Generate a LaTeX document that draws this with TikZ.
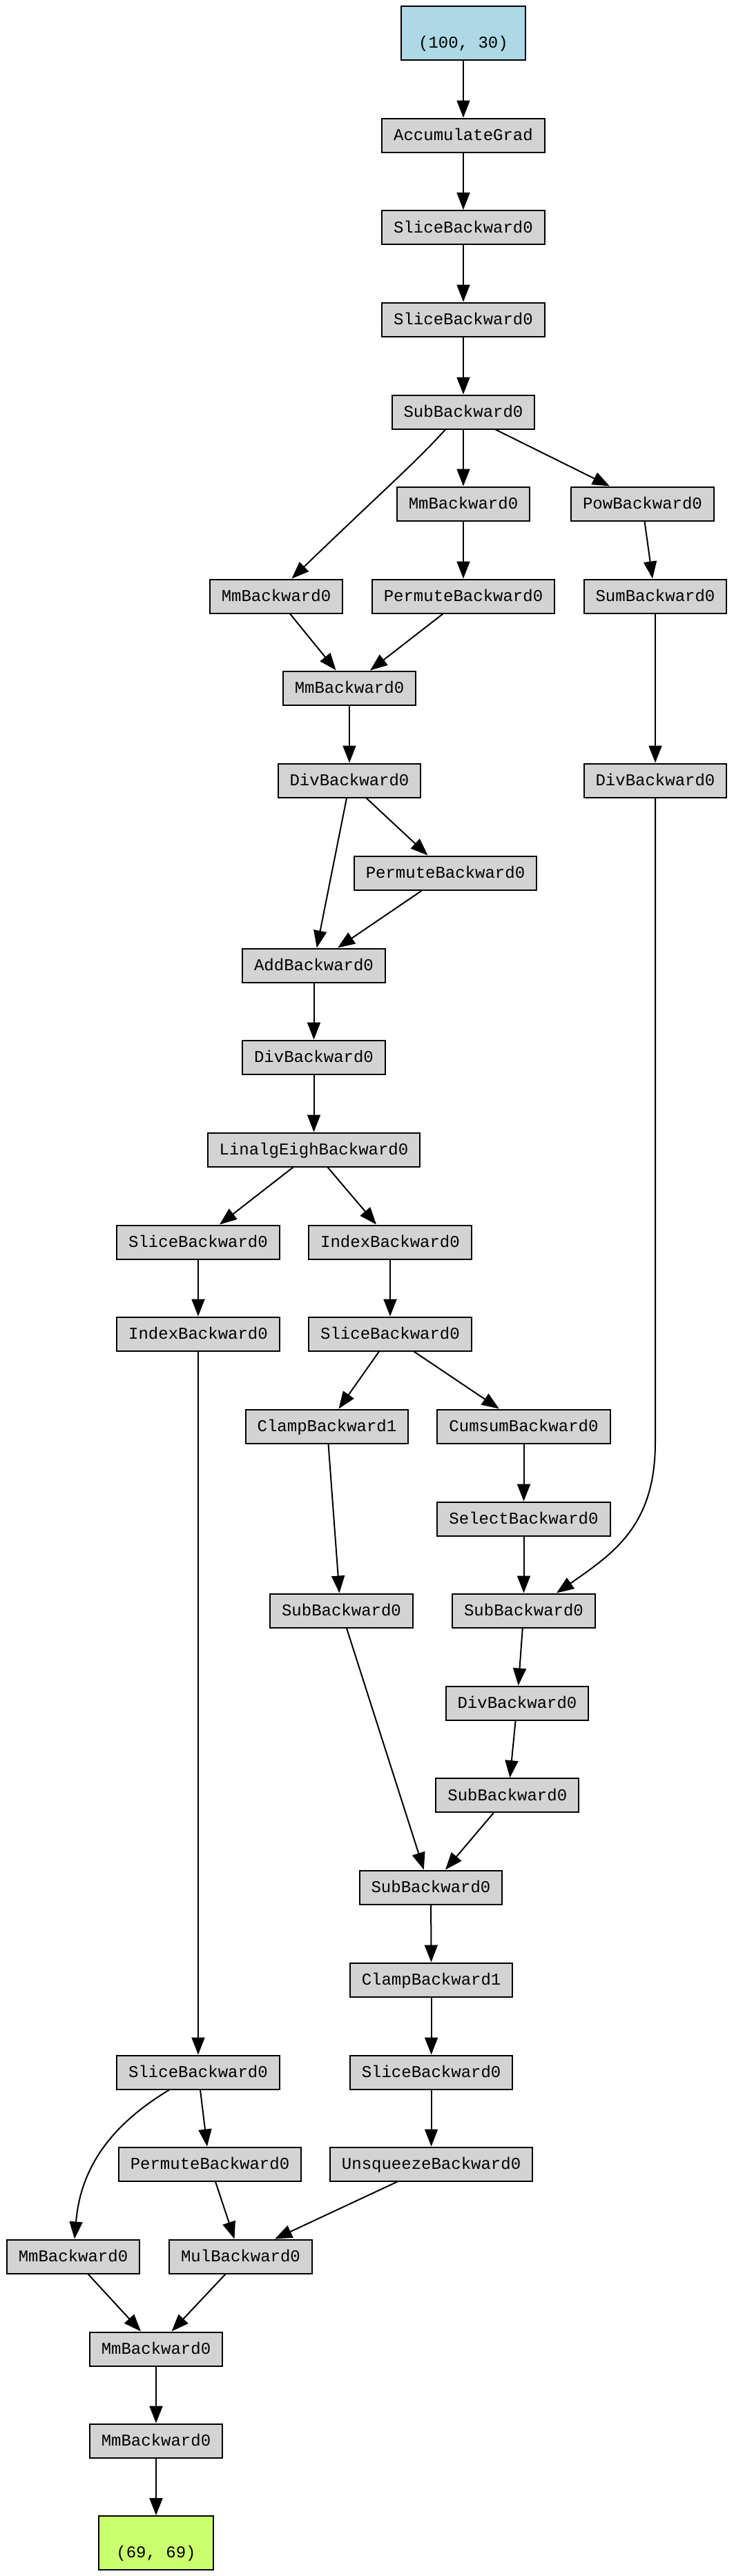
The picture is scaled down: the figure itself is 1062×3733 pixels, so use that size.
\documentclass[tikz,border=0pt]{standalone}
\usepackage{fontspec}
\usetikzlibrary{arrows.meta,calc}
\newfontfamily\opfont{Liberation Mono}
\definecolor{opgray}{RGB}{211,211,211}
\definecolor{inblue}{RGB}{173,216,230}
\definecolor{outgreen}{RGB}{202,255,112}
\tikzset{
  op/.style={draw=black, fill=opgray, line width=1pt, font=\opfont\fontsize{12pt}{14pt}\selectfont,
    inner xsep=8.5pt, inner ysep=0pt, minimum height=24.5pt, text height=9pt, text depth=1.4pt},
  tensor/.style={draw=black, line width=1pt, font=\opfont\fontsize{12pt}{14pt}\selectfont,
    inner xsep=12.5pt, inner ysep=0pt, minimum height=39pt, text height=23pt, text depth=2pt},
  edge/.style={line width=1pt, -{Triangle[length=12.5pt,width=9.5pt]}}
}
\begin{document}
\begin{tikzpicture}[x=0.5pt,y=-0.5pt]
\useasboundingbox[fill=white] (0,0) rectangle (1062,3733);
% nodes
\node[tensor, fill=inblue] (in) at (671,48) {(100, 30)};
\node[op] (acc) at (671,196) {AccumulateGrad};
\node[op] (s1) at (671,329.5) {SliceBackward0};
\node[op] (s2) at (671,463) {SliceBackward0};
\node[op] (sub1) at (671,597) {SubBackward0};
\node[op] (mm1) at (671,730) {MmBackward0};
\node[op] (pow) at (930.5,730) {PowBackward0};
\node[op] (mmL) at (400,864) {MmBackward0};
\node[op] (perm1) at (671,864) {PermuteBackward0};
\node[op] (sum) at (949,864) {SumBackward0};
\node[op] (mm2) at (506,997) {MmBackward0};
\node[op] (div1) at (506,1131) {DivBackward0};
\node[op] (divR) at (949,1131) {DivBackward0};
\node[op] (perm2) at (645,1265) {PermuteBackward0};
\node[op] (add) at (454.5,1399) {AddBackward0};
\node[op] (div2) at (454.5,1532) {DivBackward0};
\node[op] (eigh) at (454.5,1666) {LinalgEighBackward0};
\node[op] (sliceA) at (287,1800) {SliceBackward0};
\node[op] (index1) at (565,1800) {IndexBackward0};
\node[op] (indexA) at (287,1933) {IndexBackward0};
\node[op] (slice3) at (565,1933) {SliceBackward0};
\node[op] (clamp1) at (473.5,2067) {ClampBackward1};
\node[op] (cumsum) at (758.5,2067) {CumsumBackward0};
\node[op] (select) at (758.5,2201) {SelectBackward0};
\node[op] (subA) at (494.5,2334) {SubBackward0};
\node[op] (subB) at (758.5,2334) {SubBackward0};
\node[op] (div3) at (749,2468) {DivBackward0};
\node[op] (subC) at (734.8,2601.6) {SubBackward0};
\node[op] (subD) at (624,2735) {SubBackward0};
\node[op] (clamp2) at (624.6,2869) {ClampBackward1};
\node[op] (sliceB) at (287,3003) {SliceBackward0};
\node[op] (sliceC) at (624.6,3003) {SliceBackward0};
\node[op] (perm3) at (304,3136) {PermuteBackward0};
\node[op] (unsq) at (624.6,3136) {UnsqueezeBackward0};
\node[op] (mmC) at (106,3270) {MmBackward0};
\node[op] (mul) at (348.5,3270) {MulBackward0};
\node[op] (mmD) at (226,3404) {MmBackward0};
\node[op] (mmE) at (226,3537) {MmBackward0};
\node[tensor, fill=outgreen] (out) at (226,3685) {(69, 69)};
% edges
\draw[edge] (in) -- (acc);
\draw[edge] (acc) -- (s1);
\draw[edge] (s1) -- (s2);
\draw[edge] (s2) -- (sub1);
\draw[edge] ($(sub1.south)+(-26,0)$) .. controls (600,672) and (560,706) .. ($(mmL.north)+(22.5,0)$);
\draw[edge] (sub1) -- (mm1);
\draw[edge] ($(sub1.south)+(46.6,0)$) -- ($(pow.north)+(-47.5,0)$);
\draw[edge] (mm1) -- (perm1);
\draw[edge] ($(pow.south)+(3,0)$) -- ($(sum.north)+(-4,0)$);
\draw[edge] ($(mmL.south)+(20,0)$) -- ($(mm2.north)+(-19.3,0)$);
\draw[edge] ($(perm1.south)+(-29.5,0)$) -- ($(mm2.north)+(30,0)$);
\draw[edge] (mm2) -- (div1);
\draw[edge] (sum) -- (divR);
\draw[edge] ($(div1.south)+(-4,0)$) -- ($(add.north)+(4.3,0)$);
\draw[edge] ($(div1.south)+(24.5,0)$) -- ($(perm2.north)+(-25.5,0)$);
\draw[edge] ($(perm2.south)+(-34,0)$) -- ($(add.north)+(34.5,0)$);
\draw[edge] (add) -- (div2);
\draw[edge] (div2) -- (eigh);
\draw[edge] ($(eigh.south)+(-30,0)$) -- ($(sliceA.north)+(31,0)$);
\draw[edge] ($(eigh.south)+(20,0)$) -- ($(index1.north)+(-20,0)$);
\draw[edge] (sliceA) -- (indexA);
\draw[edge] (index1) -- (slice3);
\draw[edge] (indexA) -- (sliceB);
\draw[edge] ($(slice3.south)+(-16,0)$) -- ($(clamp1.north)+(17,0)$);
\draw[edge] ($(slice3.south)+(34.4,0)$) -- ($(cumsum.north)+(-35.7,0)$);
\draw[edge] (cumsum) -- (select);
\draw[edge] ($(clamp1.south)+(2,0)$) -- ($(subA.north)+(-3,0)$);
\draw[edge] (select) -- (subB);
\draw[edge] (divR.south) -- (949,2090) .. controls (949,2210) and (890,2250) .. ($(subB.north)+(47.5,0)$);
\draw[edge] ($(subB.south)+(-1.7,0)$) -- ($(div3.north)+(1.7,0)$);
\draw[edge] ($(div3.south)+(-2.4,0)$) -- ($(subC.north)+(3.7,0)$);
\draw[edge] ($(subA.south)+(7.5,0)$) -- ($(subD.north)+(-10.2,0)$);
\draw[edge] ($(subC.south)+(-20,0)$) -- ($(subD.north)+(21,0)$);
\draw[edge] (subD) -- (clamp2);
\draw[edge] (clamp2) -- (sliceC);
\draw[edge] ($(sliceB.south)+(3,0)$) -- ($(perm3.north)+(-4,0)$);
\draw[edge] ($(sliceB.south)+(-42,0)$) .. controls (180,3068) and (118,3125) .. ($(mmC.north)+(2,0)$);
\draw[edge] (sliceC) -- (unsq);
\draw[edge] ($(perm3.south)+(8,0)$) -- ($(mul.north)+(-9,0)$);
\draw[edge] ($(unsq.south)+(-49,0)$) -- ($(mul.north)+(49.5,0)$);
\draw[edge] ($(mmC.south)+(21.6,0)$) -- ($(mmD.north)+(-22,0)$);
\draw[edge] ($(mul.south)+(-22,0)$) -- ($(mmD.north)+(22.5,0)$);
\draw[edge] (mmD) -- (mmE);
\draw[edge] (mmE) -- (out);
\end{tikzpicture}
\end{document}
